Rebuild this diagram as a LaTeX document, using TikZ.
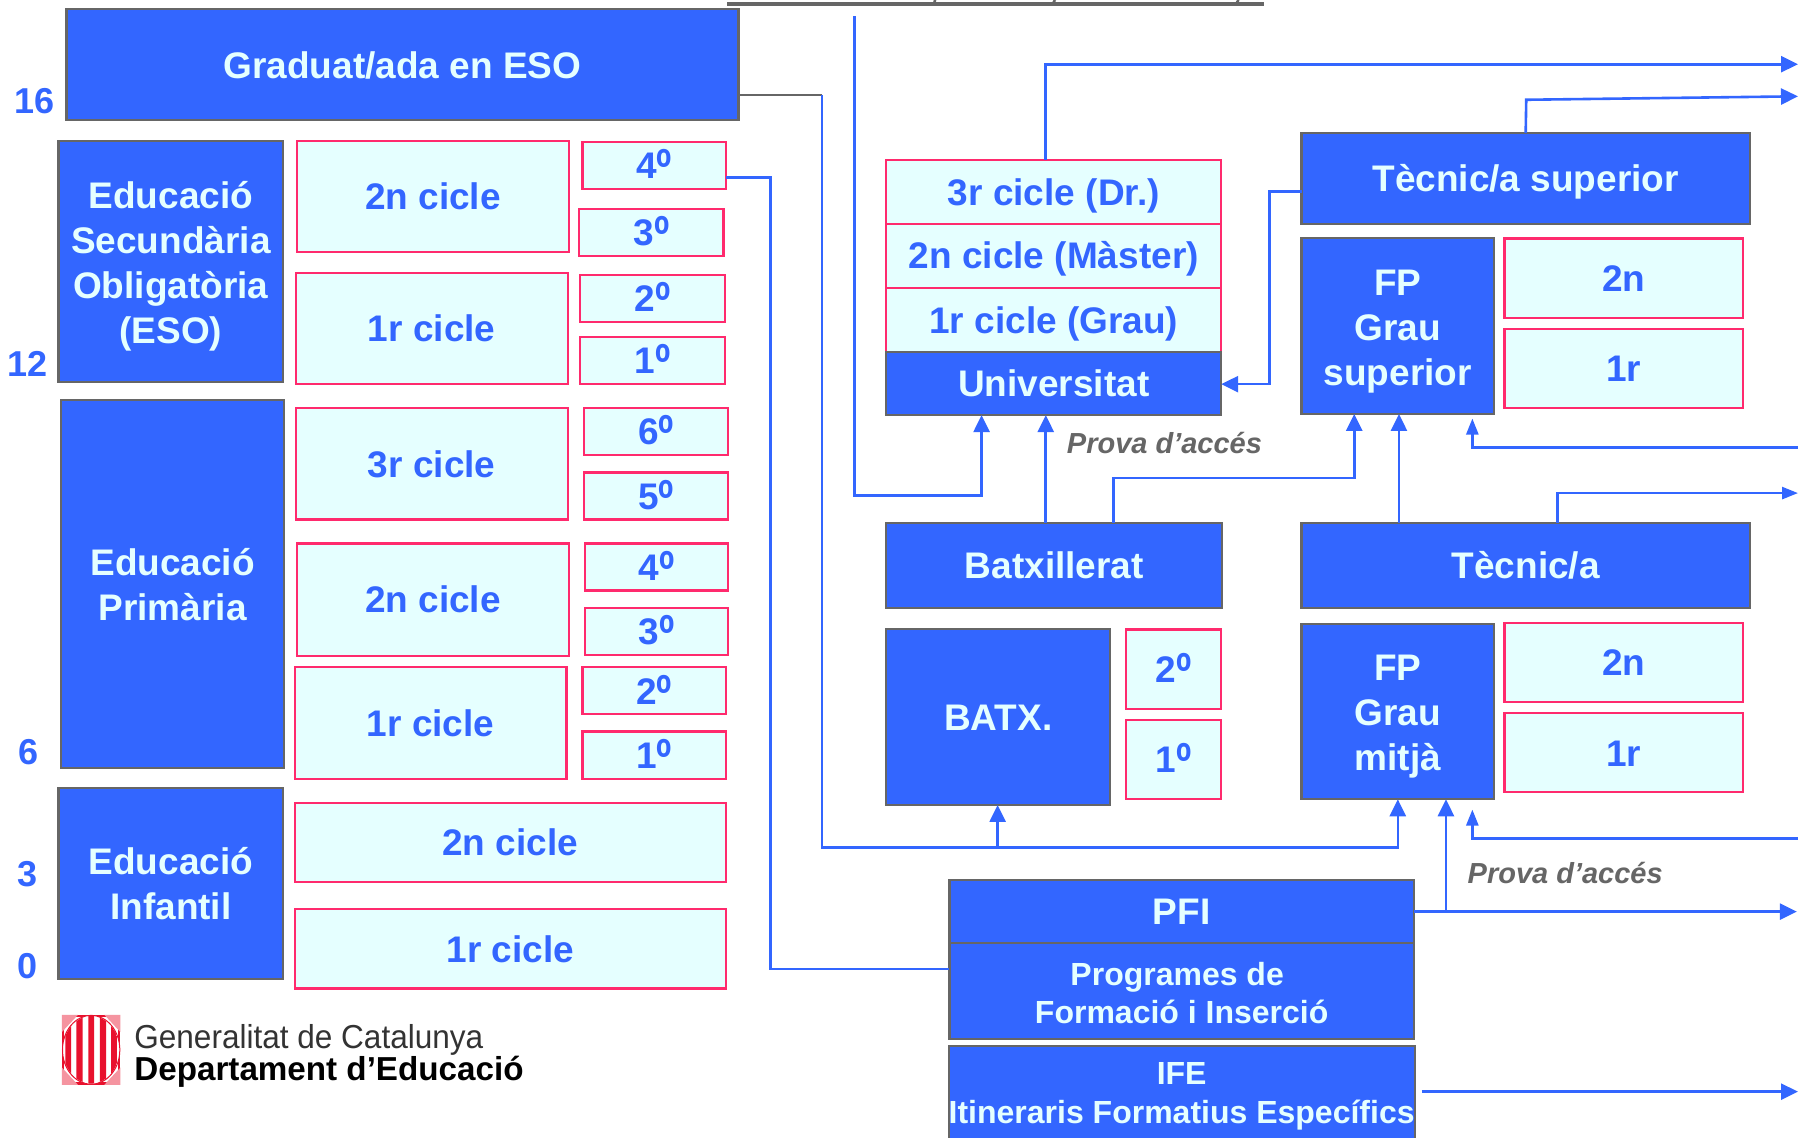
\documentclass[tikz,border=0pt]{standalone}
\usepackage{fontspec}
\setmainfont{Liberation Sans}
\usetikzlibrary{arrows.meta}
\definecolor{bl}{HTML}{3366FF}
\definecolor{lt}{HTML}{E5FFFF}
\definecolor{pk}{HTML}{FF2A6D}
\definecolor{gr}{HTML}{666666}
\definecolor{lgred}{HTML}{E8112D}
\newcommand{\bx}[7]{%
  \pgfmathsetmacro{\bxw}{(#5-#3)*1.14668}%
  \pgfmathsetmacro{\bxh}{(#6-#4)*1.14668}%
  \node[#1,minimum width=\bxw pt,minimum height=\bxh pt] (#2) at ({(#3+#5)/2},{(#4+#6)/2}) {#7};}
\newcommand{\ordm}{\raisebox{-8pt}{\scalebox{1.12}[1.45]{º}}}
\newcommand{\topstrut}[1]{\rule{0pt}{#1pt}}
\tikzset{
  dk/.style={draw=gr,fill=bl,text=lt,line width=2.1pt,inner sep=0pt,outer sep=0pt,align=center,
    text height=26.5pt,text depth=0pt,font=\fontsize{37}{45}\selectfont\bfseries},
  li/.style={draw=pk,fill=lt,text=bl,line width=2.2pt,inner sep=0pt,outer sep=0pt,align=center,
    text height=26.5pt,text depth=0pt,font=\fontsize{37}{45}\selectfont\bfseries},
  ml/.style={text height=,text depth=},
  sm/.style={font=\fontsize{32}{38.5}\selectfont\bfseries},
  age/.style={text=bl,inner sep=0pt,font=\fontsize{36}{40}\selectfont\bfseries},
  prova/.style={text=gr,inner sep=0pt,font=\fontsize{29}{34}\selectfont\bfseries\itshape},
  conn/.style={draw=bl,line width=2.6pt,line join=miter},
  big/.style={conn,-{Triangle[length=17pt,width=16pt]}},
  small/.style={conn,-{Triangle[length=16pt,width=12pt]}},
  logotxt/.style={anchor=west,inner sep=0pt,font=\fontsize{33.2}{36}\selectfont}
}
\begin{document}
\begin{tikzpicture}[x=1.14668pt,y=-1.14668pt]
\useasboundingbox (0,0) rectangle (1568,992.4);
\fill[white] (0,0) rectangle (1568,992.4);
% top cut-off rule
\draw[line width=3.2pt,gr] (634,3.5) -- (1102,3.5);
\draw[line width=2.6pt,gr] (815.5,0) -- (814.5,3.5) (920,0) -- (918,3.5) (1080,0) -- (1078,3.5);
\coordinate (freeA) at (745,14);
\coordinate (freeB) at (1568,390);
\coordinate (freeC) at (1568,731);
\coordinate (freeD) at (1240,952);
\coordinate (endA) at (1568,56);
\coordinate (endB) at (1568,84);
\coordinate (endC) at (1568,430);
\coordinate (endD) at (1567,795);
\coordinate (endE) at (1568,952);
\coordinate (tipB) at (1284,365);
\coordinate (tipC) at (1284,706);
% left column
\bx{dk}{grad}{58}{8}{644}{105}{Graduat/ada en ESO}
\bx{dk,ml}{eso}{51}{123}{247}{333}{\topstrut{36}Educació\\Secundària\\Obligatòria\\(ESO)}
\bx{dk,ml}{prim}{53}{349}{248}{670}{Educació\\Primària}
\bx{dk,ml}{inf}{51}{687}{247}{854}{Educació\\Infantil}
\bx{li}{a2n}{259}{123}{496}{220}{2n cicle}
\bx{li}{a1r}{258}{238}{495}{335}{1r cicle}
\bx{li}{a4}{508}{124}{633}{165}{4\ordm}
\bx{li}{a3}{505}{182}{631}{223}{3\ordm}
\bx{li}{a2}{506}{240}{632}{281}{2\ordm}
\bx{li}{a1}{506}{294}{632}{335}{1\ordm}
\bx{li}{b3r}{258}{356}{495}{453}{3r cicle}
\bx{li}{b6}{509}{356}{635}{397}{6\ordm}
\bx{li}{b5}{509}{412}{635}{453}{5\ordm}
\bx{li}{b2n}{259}{474}{496}{572}{2n cicle}
\bx{li}{b4}{510}{474}{635}{515}{4\ordm}
\bx{li}{b3}{510}{530}{635}{571}{3\ordm}
\bx{li}{b1r}{257}{582}{494}{679}{1r cicle}
\bx{li}{b2}{508}{582}{633}{623}{2\ordm}
\bx{li}{b1}{508}{638}{633}{679}{1\ordm}
\bx{li}{c2n}{257}{700}{633}{769}{2n cicle}
\bx{li}{c1r}{257}{793}{633}{862}{1r cicle}
% university
\bx{li}{u3}{773}{139.5}{1065}{195}{3r cicle (Dr.)}
\bx{li}{u2}{773}{195}{1065}{251}{2n cicle (Màster)}
\bx{li}{u1}{773}{251}{1065}{307}{1r cicle (Grau)}
\bx{dk}{univ}{773}{307}{1065}{362}{Universitat}
% FP superior
\bx{dk}{tsup}{1135}{116}{1526}{195}{Tècnic/a superior}
\bx{dk,ml}{fps}{1135}{207.5}{1303}{361}{\topstrut{36}FP\\Grau\\superior}
\bx{li}{fps2}{1312}{208}{1520}{277}{2n}
\bx{li}{fps1}{1312}{287}{1520}{356}{1r}
% batxillerat
\bx{dk}{batx}{773}{456}{1066}{530}{Batxillerat}
\bx{dk}{bat}{773}{548.5}{968}{702}{BATX.}
\bx{li}{bat2}{982}{549}{1065}{618}{2\ordm}
\bx{li}{bat1}{982}{628}{1065}{697}{1\ordm}
% FP mitja
\bx{dk}{tec}{1135}{456}{1526}{530}{Tècnic/a}
\bx{dk,ml}{fpm}{1135}{544}{1303}{697}{\topstrut{36}FP\\Grau\\mitjà}
\bx{li}{fpm2}{1312}{543.5}{1520}{612}{2n}
\bx{li}{fpm1}{1312}{622}{1520}{691}{1r}
% PFI, IFE
\bx{dk}{pfi}{828}{767.5}{1233}{822}{PFI}
\bx{dk,ml,sm}{prog}{828}{822}{1233}{906}{\topstrut{28}Programes de\hspace*{9pt}\\Formació i Inserció}
\bx{dk,ml,sm}{ife}{828}{912}{1233}{1000}{IFE\\Itineraris Formatius Específics}
% connectors
\draw[conn,gr,line width=1.8pt] (grad.east |- 0,83) -- (717,83);
\draw[conn] (717,83) -- (717,739) -- (870,739);
\draw[big] (870,739) -- (bat.south -| 870,0);
\draw[big] (870,739) -| (fpm.south -| 1219,0);
\draw[big] (freeA) |- (856,432) -- (univ.south -| 856,0);
\draw[big] (batx.north -| 912,0) -- (univ.south -| 912,0);
\draw[big] (batx.north -| 971,0) |- (1181,417) -- (fps.south -| 1181,0);
\draw[big] (tec.north -| 1220,0) -- (fps.south -| 1220,0);
\draw[small] (tec.north -| 1358,0) |- (endC);
\draw[small] (freeB) -| (tipB);
\draw[big] (u3.north -| 912,0) |- (endA);
\draw[big] (tsup.north) -- (1331,87) -- (endB);
\draw[big] (tsup.west |- 0,167) -| (1107,335) -- (univ.east |- 0,335);
\draw[conn] (a4.east |- 0,155) -| (672,845) -- (prog.west |- 0,845);
\draw[big] (pfi.east |- 0,795) -- (endD);
\draw[big] (1261,795) -- (fpm.south -| 1261,0);
\draw[small] (freeC) -| (tipC);
\draw[big] (freeD) -- (endE);
% ages
\node[age] (a16) at (30,88) {16};
\node[age] (a12) at (24,317) {12};
\node[age] (a6) at (25,656) {6};
\node[age] (a3y) at (24,762.5) {3};
\node[age] (a0) at (24,842.5) {0};
% labels
\node[prova] (p1) at (1015.5,386.5) {Prova d’accés};
\node[prova] (p2) at (1365,761.5) {Prova d’accés};
% logo
\begin{scope}
\fill[lgred] (54,885) rectangle (105,946);
\fill[white] (56,887) rectangle (103,944);
\fill[lgred!45] (54,885) -- (68,885) -- (54,900) -- cycle (105,885) -- (91,885) -- (105,900) -- cycle
  (54,946) -- (68,946) -- (54,931) -- cycle (105,946) -- (91,946) -- (105,931) -- cycle;
\fill[white] (79.5,915.5) ellipse (25 and 30);
\clip (79.5,915.5) ellipse (24.5 and 29.5);
\fill[lgred] (57,885) rectangle (62,946) (66.5,885) rectangle (72,946) (77,885) rectangle (82,946)
  (87,885) rectangle (92.5,946) (97,885) rectangle (102,946);
\end{scope}
\draw[lgred,line width=1pt] (79.5,915.5) ellipse (25 and 30);
\node[logotxt,text=black!80] (gen) at (117,906.5) {\scalebox{0.95}[1]{Generalitat de Catalunya}};
\node[logotxt,text=black] (dep) at (117,935) {\bfseries Departament d’Educació};
\end{tikzpicture}
\end{document}
